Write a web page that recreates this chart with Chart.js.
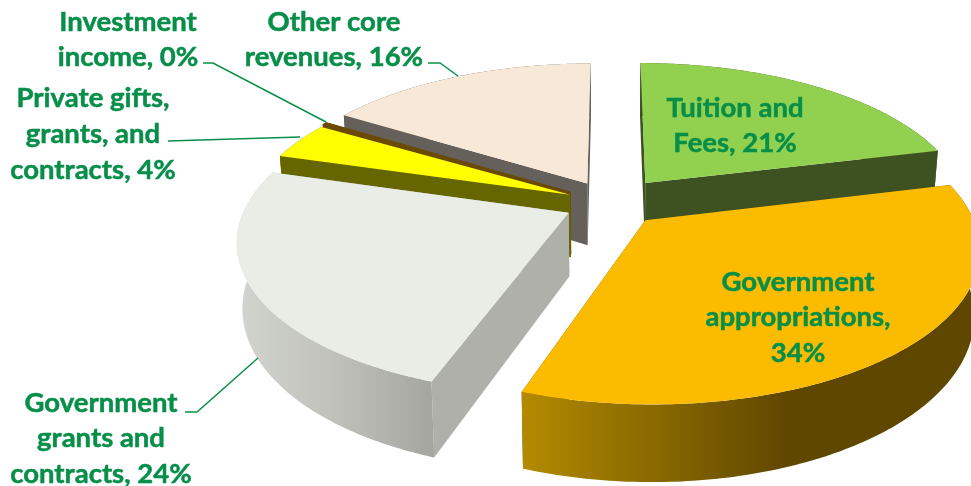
<!DOCTYPE html>
<html><head><meta charset="utf-8">
<style>html,body{margin:0;padding:0;background:#fff;overflow:hidden}canvas{display:block}</style>
<script src="https://cdn.jsdelivr.net/npm/chart.js@4/dist/chart.umd.js"></script>
</head><body>
<canvas id="c" width="971" height="486"></canvas>
<script>
// ---- data ----
const categories = ['Tuition and Fees','Government appropriations','Government grants and contracts','Private gifts, grants, and contracts','Investment income','Other core revenues'];
const shares = [21, 34, 24, 4, 0.3, 16];
const shareLabels = ['21%','34%','24%','4%','0%','16%'];

// ---- styles ----
const topColors = ['#92D050','#FBBC00','#E9EDE6','#FFFF00','#6B4A00','#F8E8D8'];
const wallColors = ['#3D5220','#6A5000','#AEB0A9','#666600','#6B4A00','#66605A'];
const outerStops = [
  [[0,'#3D5220'],[1,'#3D5220']],
  [[0,'#B38B00'],[0.58,'#5F4700'],[1,'#5F4700']],
  [[0,'#D2D4CE'],[0.5,'#BFC1BA'],[1,'#A3A59E']],
  [[0,'#666600'],[1,'#666600']],
  [[0,'#6B4A00'],[1,'#6B4A00']],
  [[0,'#66605A'],[1,'#66605A']]
];
const PLANE_RADIUS = 322, TILT = 0.455, CAMERA = 1900, THICK = 63, TAPER = 0.985;
const sliceOffsets = [57, 50, 47, 45, 48, 50];
const TEXT = '#078F4A';
const FONT = 'bold 27.5px Lato';

// label line layout: [slice, text lines, centre x, first line y, line step]
const labelLines = [
  [0, ['Tuition and','Fees, ' + shareLabels[0]], 735, 108, 35.5],
  [1, ['Government','appropriations,', shareLabels[1]], 798, 282, 35.5],
  [2, ['Government','grants and','contracts, ' + shareLabels[2]], 101, 403, 35.5],
  [3, ['Private gifts,','grants, and','contracts, ' + shareLabels[3]], 93, 98, 36],
  [4, ['Investment','income, ' + shareLabels[4]], 128, 22, 35.5],
  [5, ['Other core','revenues, ' + shareLabels[5]], 334, 22, 35.5]
];
const leaders = [
  [[203,63],[213,63],[326,122]],
  [[428,63],[440,63],[458,76]],
  [[168,141],[300,137]],
  [[185,412],[197,412],[258,358]]
];

// ---- 3D pie element and controller ----
function project(el, X, Y, low) {
  const s = 1 / (1 - Y / CAMERA);
  const t = low ? TAPER : 1;
  return [el.x + X * s * t, el.y + Y * TILT * s + (low ? THICK * s : 0)];
}
class Arc3D extends Chart.ArcElement {
  draw(ctx) {
    const {x, y, startAngle, endAngle} = this.getProps(['x','y','startAngle','endAngle']);
    const i = this.$context ? this.$context.dataIndex : 0;
    const frame = {x, y};
    const mid = (startAngle + endAngle) / 2;
    const ox = Math.cos(mid) * this.options.offset, oy = Math.sin(mid) * this.options.offset;
    const rim = [];
    const N = 140;
    for (let k = 0; k <= N; k++) {
      const a = startAngle + (endAngle - startAngle) * k / N;
      rim.push([ox + PLANE_RADIUS * Math.cos(a), oy + PLANE_RADIUS * Math.sin(a)]);
    }
    const poly = (pts, fill) => {
      ctx.beginPath();
      pts.forEach((p, n) => n ? ctx.lineTo(p[0], p[1]) : ctx.moveTo(p[0], p[1]));
      ctx.closePath();
      ctx.fillStyle = fill;
      ctx.fill();
    };
    const apexT = project(frame, ox, oy, false), apexB = project(frame, ox, oy, true);
    const rimT = rim.map(p => project(frame, p[0], p[1], false));
    const rimB = rim.map(p => project(frame, p[0], p[1], true));
    ctx.save();
    // radial walls
    poly([apexT, rimT[0], rimB[0], apexB], wallColors[i]);
    poly([apexT, rimT[N], rimB[N], apexB], wallColors[i]);
    // outer wall
    const xs = rimT.concat(rimB).map(p => p[0]);
    const g = ctx.createLinearGradient(Math.min(...xs), 0, Math.max(...xs), 0);
    outerStops[i].forEach(st => g.addColorStop(st[0], st[1]));
    poly(rimT.concat(rimB.slice().reverse()), g);
    // top face
    poly([apexT].concat(rimT), this.options.backgroundColor);
    ctx.restore();
  }
}
Arc3D.id = 'arc3d';
class Pie3D extends Chart.PieController {
  draw() {
    const ctx = this.chart.ctx;
    const arcs = this._cachedMeta.data.slice();
    const depth = a => Math.sin((a.startAngle + a.endAngle) / 2);
    arcs.sort((p, q) => depth(p) - depth(q));
    arcs.forEach(a => a.draw(ctx));
  }
}
Pie3D.id = 'pie3d';
Pie3D.defaults = {dataElementType: 'arc3d'};
Chart.register(Arc3D, Pie3D);

const labelPlugin = {
  id: 'sliceLabels',
  afterDraw(chart) {
    const ctx = chart.ctx;
    ctx.save();
    ctx.strokeStyle = TEXT;
    ctx.lineWidth = 1.5;
    leaders.forEach(path => {
      ctx.beginPath();
      path.forEach((p, n) => n ? ctx.lineTo(p[0], p[1]) : ctx.moveTo(p[0], p[1]));
      ctx.stroke();
    });
    ctx.fillStyle = TEXT;
    ctx.font = FONT;
    ctx.textAlign = 'center';
    ctx.textBaseline = 'middle';
    ctx.lineWidth = 0.5;
    labelLines.forEach(([slice, lines, cx, y0, step]) => {
      lines.forEach((line, n) => {
        ctx.fillText(line, cx, y0 + n * step);
        ctx.strokeText(line, cx, y0 + n * step);
      });
    });
    ctx.restore();
  }
};

new Chart(document.getElementById('c'), {
  type: 'pie3d',
  data: {
    labels: categories,
    datasets: [{
      data: shares,
      backgroundColor: topColors,
      borderWidth: 0,
      offset: sliceOffsets
    }]
  },
  options: {
    responsive: false,
    animation: false,
    layout: {padding: {left: 251, bottom: 80}},
    plugins: {legend: {display: false}, tooltip: {enabled: false}}
  },
  plugins: [labelPlugin]
});
</script>
</body></html>
